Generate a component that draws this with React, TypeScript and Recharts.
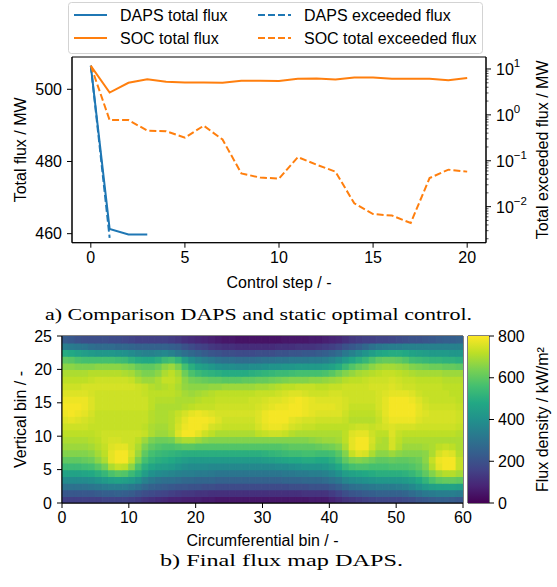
import { LineChart, Line, XAxis, YAxis, ReferenceArea, BarChart, Bar, Cell } from 'recharts';

const BLUE = '#1f77b4';
const ORANGE = '#ff7f0e';
const FONT = '"Liberation Sans", Arial, sans-serif';
const SERIF = '"Liberation Serif", "DejaVu Serif", serif';

// a) comparison DAPS vs static optimal control
const steps = [0, 1, 2, 3, 4, 5, 6, 7, 8, 9, 10, 11, 12, 13, 14, 15, 16, 17, 18, 19, 20];
const dapsTotal = [506.5, 461.3, 459.8, 459.8];
const dapsExceeded = [11.8, 0.0021, null, null];
const socTotal = [506.5, 499.1, 501.8, 502.8, 502.1, 501.9, 501.9, 501.8, 502.4, 502.4, 502.3,
  502.9, 503.0, 502.7, 503.3, 503.3, 502.9, 502.9, 502.9, 502.5, 503.1];
const socExceeded = [11.8, 0.77, 0.77, 0.455, 0.44, 0.32, 0.58, 0.29, 0.053, 0.043, 0.041,
  0.12, 0.082, 0.058, 0.0118, 0.0069, 0.0064, 0.0044, 0.042, 0.064, 0.058];

const stepTicks = [0, 5, 10, 15, 20];
const fluxTicks = [460, 480, 500];
const exceededMajor = [0.01, 0.1, 1, 10];
const exceededMinor = [0.002, 0.003, 0.004, 0.005, 0.006, 0.007, 0.008, 0.009,
  0.02, 0.03, 0.04, 0.05, 0.06, 0.07, 0.08, 0.09,
  0.2, 0.3, 0.4, 0.5, 0.6, 0.7, 0.8, 0.9,
  2, 3, 4, 5, 6, 7, 8, 9];

const legendItems = [
  { label: 'DAPS total flux', color: BLUE, dashed: false },
  { label: 'SOC total flux', color: ORANGE, dashed: false },
  { label: 'DAPS exceeded flux', color: BLUE, dashed: true },
  { label: 'SOC total exceeded flux', color: ORANGE, dashed: true },
];

// b) final flux map, kW/m², rows from vertical bin 24 (top) down to bin 0
const fluxMap = [
  [230,220,200,190,190,190,190,180,180,170, 160,150,150,150,150,150,140,130,110,100, 90,80,70,60,50,50,40,40,40,40, 40,40,40,50,50,50,50,60,60,70, 80,90,110,130,140,150,150,160,160,170, 180,190,200,200,210,220,230,240,240,250],
  [340,330,320,310,290,280,280,280,270,270, 260,250,250,250,250,250,240,230,200,180, 160,150,130,120,110,110,100,100,100,100, 100,100,110,110,110,120,120,120,130,140, 150,170,200,220,240,270,300,320,330,340, 340,350,350,350,350,350,350,350,350,350],
  [490,480,460,440,430,420,420,420,410,400, 380,360,350,350,360,370,350,320,290,270, 250,230,210,200,190,190,180,180,180,190, 190,190,200,200,210,210,220,220,230,240, 260,280,320,350,380,410,440,470,480,490, 490,480,460,450,440,430,430,430,420,420],
  [600,590,570,560,560,560,560,560,550,540, 510,490,480,480,500,540,560,520,440,390, 360,340,320,300,290,290,280,280,280,290, 300,300,310,310,320,320,320,330,330,340, 360,390,430,470,500,530,570,600,610,610, 600,580,550,540,530,520,520,510,510,500],
  [660,660,650,650,650,660,660,660,660,650, 640,610,600,600,620,660,680,640,560,500, 460,440,420,400,390,390,380,380,390,390, 400,410,410,420,420,430,430,430,430,440, 460,490,540,580,610,630,660,680,690,690, 680,670,650,640,630,620,620,610,610,600],
  [700,700,700,700,710,710,710,710,710,700, 690,660,640,640,660,700,720,690,620,570, 540,520,510,500,490,490,490,490,500,510, 520,530,540,540,550,560,560,560,560,570, 590,620,650,670,690,700,710,720,730,730, 720,710,700,690,690,690,690,680,680,680],
  [720,720,720,720,730,740,740,740,740,740, 730,700,680,680,700,730,730,710,660,630, 620,610,600,600,590,590,590,600,600,610, 610,620,630,640,650,650,650,660,660,670, 680,690,710,720,720,730,740,740,740,750, 740,730,730,720,720,720,720,710,710,710],
  [740,740,740,750,750,750,750,750,750,750, 750,740,730,710,700,710,720,700,670,660, 660,660,670,670,680,680,680,680,680,690, 690,700,710,720,720,730,730,730,720,720, 730,730,740,740,740,740,750,750,750,760, 750,740,740,730,730,730,730,720,720,720],
  [760,760,760,760,750,740,740,740,740,740, 740,740,730,720,720,720,720,710,690,680, 690,700,710,720,720,720,720,720,720,730, 730,730,740,750,760,760,750,740,740,740, 750,750,740,740,740,740,740,750,760,770, 770,770,760,740,730,730,730,730,720,720],
  [780,780,780,780,760,740,740,740,740,740, 740,740,740,720,710,710,710,700,700,700, 710,720,720,730,730,730,730,730,740,740, 750,760,760,770,780,790,780,770,760,760, 760,760,750,740,740,740,740,750,770,790, 790,790,780,760,740,730,730,730,730,720],
  [790,790,790,780,760,740,740,740,740,740, 740,740,740,720,700,700,700,700,710,720, 730,730,730,740,740,740,740,740,740,750, 760,770,780,780,790,790,780,770,770,770, 770,760,750,730,730,730,730,750,770,790, 790,790,790,770,750,740,740,740,740,730],
  [780,790,780,770,750,730,730,730,730,730, 730,730,730,710,700,700,710,730,750,770, 780,770,760,750,750,750,750,750,750,760, 780,790,790,790,790,790,780,770,760,760, 760,760,740,720,720,720,720,740,770,790, 790,790,790,770,760,750,750,750,750,740],
  [760,770,760,750,740,730,730,730,730,730, 730,730,730,710,700,700,710,740,770,790, 790,790,780,760,740,740,740,740,740,760, 780,790,790,790,770,760,750,750,740,740, 740,740,730,710,710,710,710,730,760,780, 780,780,780,760,750,750,750,750,750,740],
  [740,740,740,740,730,730,730,730,730,730, 730,730,720,700,690,690,710,750,780,790, 790,780,750,740,730,730,730,730,730,750, 770,780,780,770,750,740,730,730,720,720, 720,720,720,730,740,740,730,740,750,760, 750,750,750,740,740,740,740,740,740,730],
  [720,720,720,720,720,730,740,740,740,740, 740,740,730,700,680,680,700,760,790,790, 770,740,720,700,700,700,700,700,700,720, 730,740,740,730,710,700,700,700,700,700, 700,700,720,760,770,770,740,720,720,760, 730,720,720,720,720,720,720,720,720,710],
  [700,700,700,700,710,720,740,750,750,740, 740,720,680,640,620,620,630,680,700,700, 680,660,650,650,650,650,650,650,650,650, 650,650,650,650,650,650,650,660,670,680, 680,690,720,770,790,790,750,710,700,750, 720,700,700,700,700,700,700,700,700,700],
  [680,680,680,680,690,710,730,760,770,770, 740,700,640,600,580,570,570,580,590,590, 580,580,580,580,580,580,580,580,580,580, 580,580,580,590,600,600,600,600,610,620, 630,650,700,770,790,790,740,700,700,750, 710,680,680,680,690,700,720,730,720,700],
  [650,650,650,650,660,690,720,770,790,790, 750,680,600,560,540,530,520,510,500,500, 500,500,500,500,500,500,500,500,500,500, 510,520,530,540,550,550,560,560,550,550, 560,590,650,730,760,750,700,660,660,680, 660,650,650,650,660,700,750,770,760,710],
  [600,600,600,610,620,660,700,770,790,790, 730,640,560,520,500,490,480,460,440,430, 430,430,430,430,430,430,430,430,430,430, 440,450,460,470,480,480,490,490,480,480, 500,540,600,640,650,640,620,600,600,610, 600,600,610,620,660,730,780,790,790,730],
  [540,540,540,550,560,590,630,700,730,720, 660,570,500,470,450,440,430,410,390,380, 380,380,370,370,370,370,370,370,370,370, 370,370,380,380,390,400,410,410,410,420, 440,480,530,560,570,570,560,560,560,570, 570,570,580,600,640,710,770,790,790,730],
  [460,460,460,470,480,500,530,570,590,580, 540,500,440,400,380,370,360,350,340,340, 330,330,320,310,310,310,310,310,310,310, 310,310,310,320,320,330,330,340,340,350, 370,400,440,460,470,480,490,500,500,500, 500,510,530,560,600,650,690,710,710,690],
  [380,380,380,380,390,410,430,450,460,450, 430,400,350,320,300,290,290,280,270,270, 260,260,260,250,250,250,250,250,250,250, 250,250,250,260,260,260,270,270,270,280, 300,320,360,380,390,400,410,420,420,420, 420,430,450,480,520,570,600,610,610,600],
  [300,300,300,300,310,320,330,340,340,340, 320,300,270,250,240,230,220,210,210,200, 200,190,190,180,180,180,180,180,180,180, 180,180,180,180,190,190,190,200,200,200, 220,240,270,290,300,310,320,330,330,330, 340,350,370,400,430,450,460,460,460,450],
  [220,220,220,220,220,230,240,240,250,240, 230,210,190,180,170,160,150,140,130,130, 120,120,110,110,110,110,110,110,110,110, 110,110,110,110,110,110,120,120,120,120, 140,160,190,210,220,230,240,250,250,250, 250,260,280,300,320,330,340,340,340,330],
  [150,150,150,150,150,150,160,160,160,160, 150,140,120,110,100,90,80,80,70,70, 70,60,60,50,50,50,50,50,50,50, 50,50,50,50,50,50,50,60,60,60, 80,100,120,130,140,150,160,170,170,170, 170,180,190,210,220,230,240,240,230,220],
];
const circTicks = [0, 10, 20, 30, 40, 50, 60];
const vertTicks = [0, 5, 10, 15, 20, 25];
const densityTicks = [0, 200, 400, 600, 800];

const VIRIDIS = ['#440154', '#482475', '#414487', '#355f8d', '#2a788e', '#21918c',
  '#22a884', '#44bf70', '#7ad151', '#bddf26', '#fde725'];

function hexRgb(h: string) {
  return [1, 3, 5].map((i) => parseInt(h.slice(i, i + 2), 16));
}

function viridis(v: number) {
  const t = Math.max(0, Math.min(1, v / 800)) * (VIRIDIS.length - 1);
  const i = Math.min(Math.floor(t), VIRIDIS.length - 2);
  const f = t - i;
  const a = hexRgb(VIRIDIS[i]);
  const b = hexRgb(VIRIDIS[i + 1]);
  const c = a.map((x, k) => Math.round(x + (b[k] - x) * f));
  return `rgb(${c[0]},${c[1]},${c[2]})`;
}

const tickStyle = { fill: '#000', fontSize: 16, fontFamily: FONT };
const labelStyle = { fill: '#000', fontSize: 16, fontFamily: FONT };

const LogTick = (props: any) => {
  const { x, y, payload } = props;
  const lg = Math.log10(payload.value);
  const e = Math.round(lg);
  const major = Math.abs(lg - e) < 1e-6;
  const ax = x - 10;
  return (
    <g>
      <line x1={ax} x2={ax + (major ? 5 : 2.5)} y1={y} y2={y} stroke="#000" strokeWidth={major ? 1 : 0.7} />
      {major && (
        <text x={x} y={y + 6} fill="#000" fontSize={16} fontFamily={FONT}>
          10
          <tspan dy={-8} fontSize={11.5}>{e < 0 ? `\u2212${-e}` : `${e}`}</tspan>
        </text>
      )}
    </g>
  );
};

const LegendBox = () => (
  <svg width={416} height={53} style={{ position: 'absolute', left: 68, top: 2 }}>
    <rect x={0.5} y={0.5} width={414} height={51} rx={3} fill="#fff" stroke="#d3d3d3" />
    {legendItems.map((it, i) => {
      const col = Math.floor(i / 2);
      const row = i % 2;
      const lx = col === 0 ? 6 : 190;
      const ly = row === 0 ? 13 : 36;
      return (
        <g key={it.label}>
          <line x1={lx} x2={lx + 33} y1={ly} y2={ly} stroke={it.color} strokeWidth={2}
            strokeDasharray={it.dashed ? '7 3' : undefined} />
          <text x={lx + 46} y={ly + 6} fontSize={16} fontFamily={FONT} fill="#000">{it.label}</text>
        </g>
      );
    })}
  </svg>
);

const lineRows = steps.map((s, i) => ({
  step: s,
  dapsTotal: i < dapsTotal.length ? dapsTotal[i] : null,
  dapsExceeded: i < dapsExceeded.length ? dapsExceeded[i] : null,
  socTotal: socTotal[i],
  socExceeded: socExceeded[i],
}));

const mapRows = fluxMap[0].map((_, c) => {
  const row: Record<string, number> = { bin: c + 0.5 };
  fluxMap.forEach((_, r) => { row[`r${r}`] = 1; });
  return row;
});
const CELL = 401 / 60;

const FluxComparison = () => (
  <LineChart width={557} height={300} data={lineRows} margin={{ top: 57, right: 0, bottom: 0, left: 0 }}>
    <XAxis dataKey="step" type="number" domain={[-1, 21]} ticks={stepTicks} allowDataOverflow interval={0}
      height={57.3} tickSize={5} tickMargin={4} stroke="#000" tick={tickStyle}
      label={{ value: 'Control step / -', position: 'insideBottom', offset: 12, style: labelStyle }} />
    <YAxis yAxisId="flux" type="number" domain={[457.5, 508.95]} ticks={fluxTicks} allowDataOverflow interval={0}
      width={72} tickSize={5} tickMargin={5} stroke="#000" tick={tickStyle}
      label={{ value: 'Total flux / MW', angle: -90, position: 'insideLeft', offset: 20, style: { ...labelStyle, textAnchor: 'middle' } }} />
    <YAxis yAxisId="exc" orientation="right" type="number" scale="log" domain={[0.00164, 18.24]} allowDataOverflow
      ticks={[...exceededMinor, ...exceededMajor]} interval={0} width={71} tickSize={5} tickMargin={5}
      stroke="#000" tickLine={false} tick={<LogTick />}
      label={{ value: 'Total exceeded flux / MW', angle: -90, position: 'insideRight', offset: 15, style: { ...labelStyle, textAnchor: 'middle' } }} />
    <Line yAxisId="flux" dataKey="dapsTotal" stroke={BLUE} strokeWidth={2} dot={false} isAnimationActive={false} />
    <Line yAxisId="flux" dataKey="socTotal" stroke={ORANGE} strokeWidth={2} dot={false} isAnimationActive={false} />
    <Line yAxisId="exc" dataKey="dapsExceeded" stroke={BLUE} strokeWidth={2} strokeDasharray="7 3" dot={false} isAnimationActive={false} />
    <Line yAxisId="exc" dataKey="socExceeded" stroke={ORANGE} strokeWidth={2} strokeDasharray="7 3" dot={false} isAnimationActive={false} />
    <ReferenceArea yAxisId="flux" y1={457.5} y2={508.95} fill="none" stroke="#000" strokeWidth={1} ifOverflow="visible" />
  </LineChart>
);

const FluxMap = () => (
  <BarChart width={557} height={240} data={mapRows} margin={{ top: 16, right: 94, bottom: 0, left: 0 }}
    barCategoryGap={0} barGap={0}>
    <XAxis dataKey="bin" type="number" domain={[0, 60]} ticks={circTicks} allowDataOverflow interval={0}
      height={57} tickSize={5} tickMargin={4} stroke="#000" tick={tickStyle}
      label={{ value: 'Circumferential bin / -', position: 'insideBottom', offset: 14, style: labelStyle }} />
    <YAxis type="number" domain={[0, 25]} ticks={vertTicks} allowDataOverflow interval={0}
      width={62} tickSize={5} tickMargin={5} stroke="#000" tick={tickStyle}
      label={{ value: 'Vertical bin / -', angle: -90, position: 'insideLeft', offset: 20, style: { ...labelStyle, textAnchor: 'middle' } }} />
    {fluxMap.map((_, r) => (
      <Bar key={r} dataKey={`r${r}`} stackId="map" barSize={CELL} isAnimationActive={false}>
        {mapRows.map((__, c) => {
          const col = viridis(fluxMap[fluxMap.length - 1 - r][c]);
          return <Cell key={c} fill={col} stroke={col} strokeWidth={1.4} />;
        })}
      </Bar>
    ))}
    <ReferenceArea y1={0} y2={25} fill="none" stroke="#000" strokeWidth={1} ifOverflow="visible" />
  </BarChart>
);

const ColorBar = () => (
  <BarChart width={557} height={240} data={[{ name: 'cb', top: 800 }]}
    margin={{ top: 16, right: 0, bottom: 57, left: 468 }} barCategoryGap={0}>
    <defs>
      <linearGradient id="viridisBar" x1="0" y1="1" x2="0" y2="0">
        {VIRIDIS.map((c, i) => <stop key={c} offset={i / (VIRIDIS.length - 1)} stopColor={c} />)}
      </linearGradient>
    </defs>
    <XAxis dataKey="name" hide />
    <YAxis orientation="right" type="number" domain={[0, 800]} ticks={densityTicks} interval={0}
      width={68} tickSize={5} tickMargin={4} stroke="#000" axisLine={false} tick={tickStyle}
      label={{ value: 'Flux density / kW/m²', angle: -90, position: 'insideRight', offset: 15, style: { ...labelStyle, textAnchor: 'middle' } }} />
    <Bar dataKey="top" fill="url(#viridisBar)" isAnimationActive={false} />
    <ReferenceArea y1={0} y2={800} fill="none" stroke="#000" strokeWidth={1} ifOverflow="visible" />
  </BarChart>
);

export default function App() {
  return (
    <div style={{ position: 'absolute', left: 0, top: 0, width: 557, height: 587, background: '#fff', fontFamily: FONT }}>
      <div style={{ position: 'absolute', left: 0, top: 0 }}>
        <FluxComparison />
      </div>
      <LegendBox />
      <div style={{ position: 'absolute', left: 0, top: 320 }}>
        <FluxMap />
      </div>
      <div style={{ position: 'absolute', left: 0, top: 320 }}>
        <ColorBar />
      </div>
      <svg width={557} height={587} style={{ position: 'absolute', left: 0, top: 0, pointerEvents: 'none' }}>
        <text x={45} y={320} fontSize={16.5} fontFamily={SERIF} fill="#000" textLength={427} lengthAdjust="spacingAndGlyphs">
          a) Comparison DAPS and static optimal control.
        </text>
        <text x={160} y={566} fontSize={16.5} fontFamily={SERIF} fill="#000" textLength={243} lengthAdjust="spacingAndGlyphs">
          b) Final flux map DAPS.
        </text>
      </svg>
    </div>
  );
}
